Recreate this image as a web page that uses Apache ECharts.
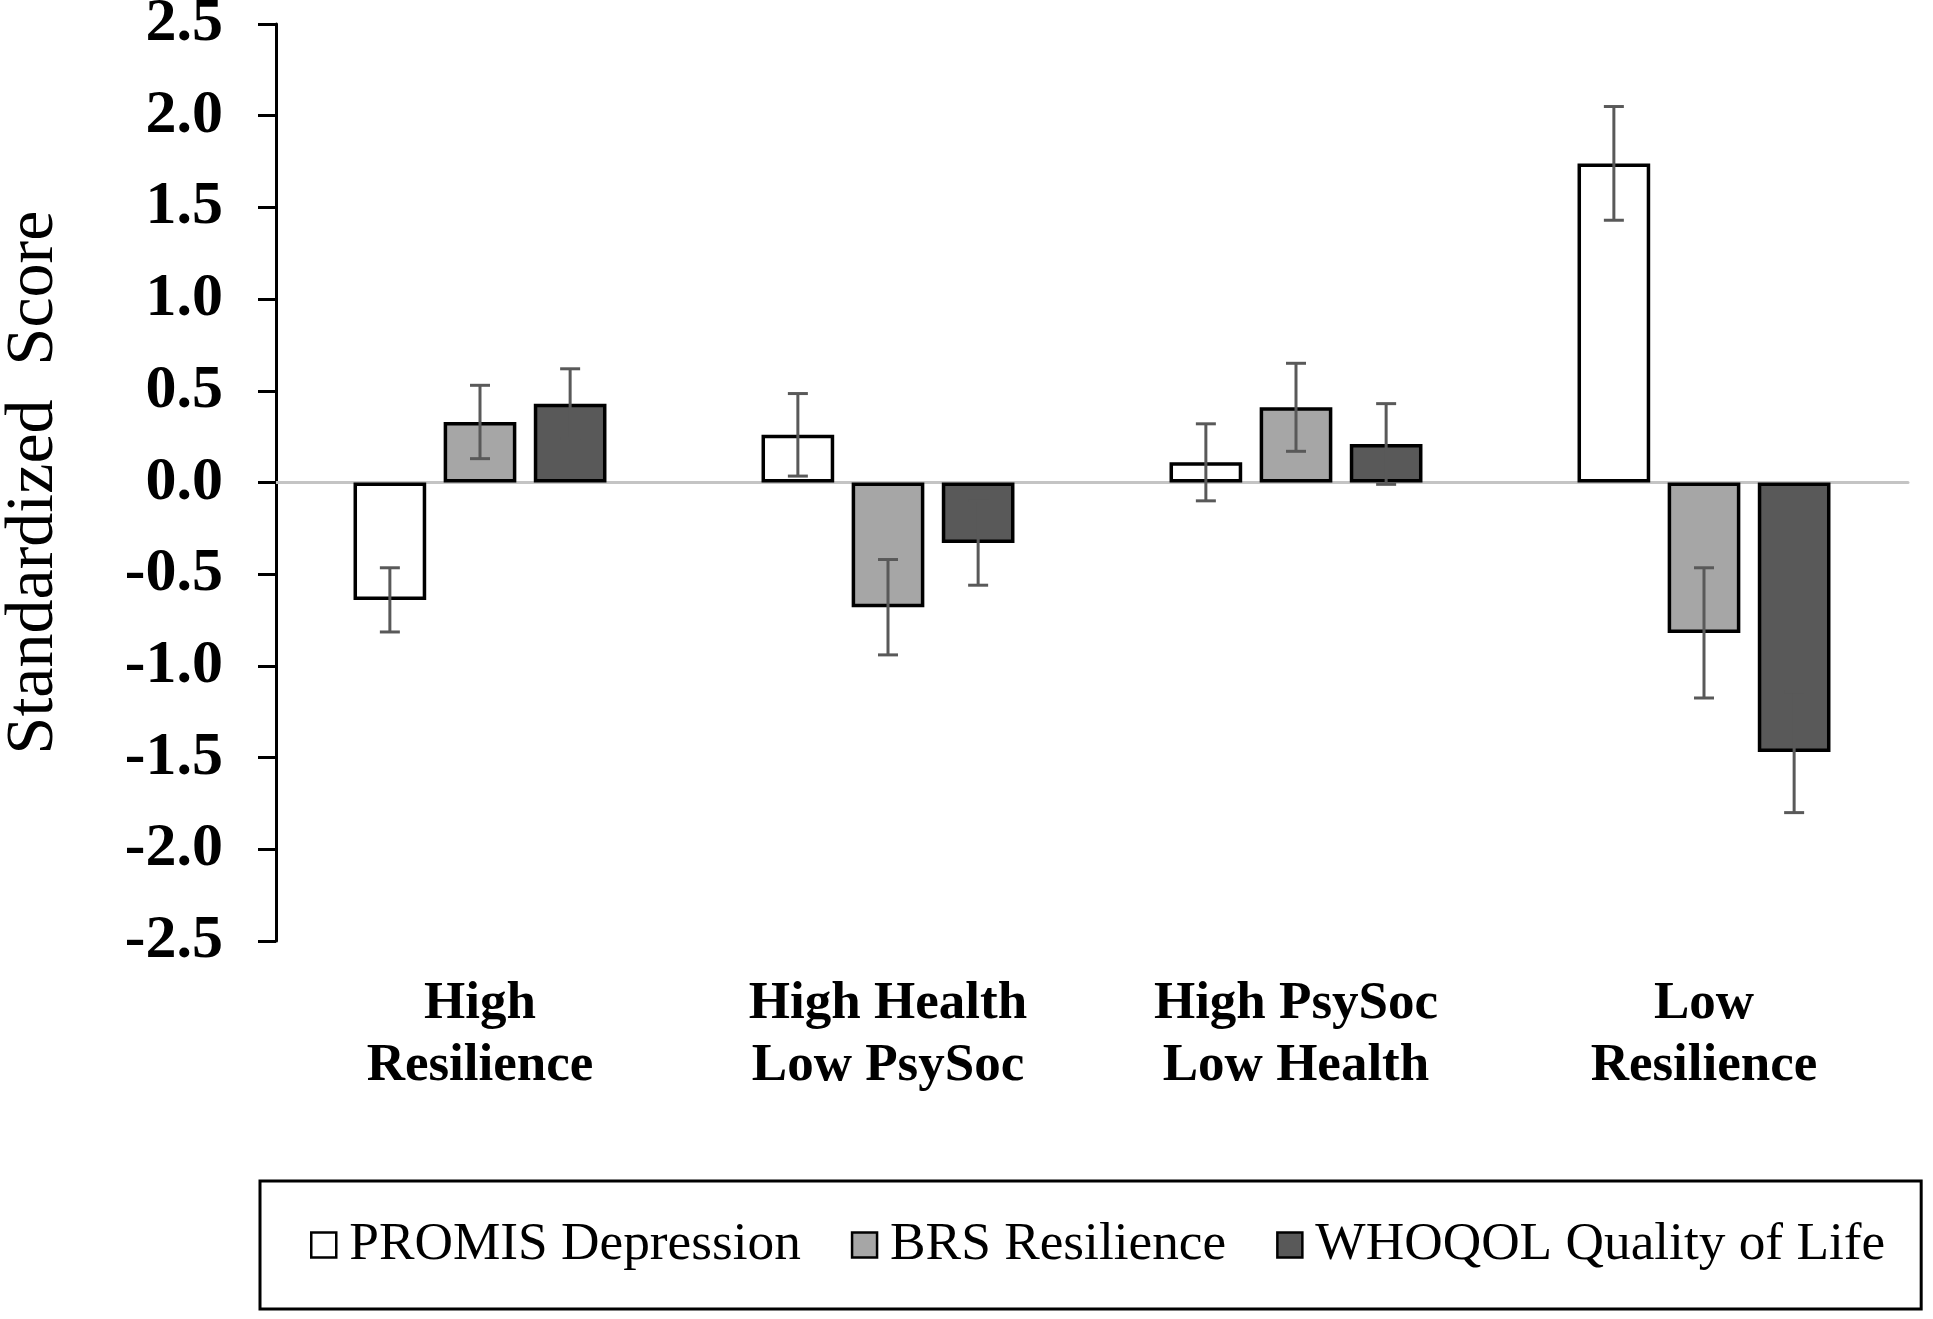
<!DOCTYPE html>
<html>
<head>
<meta charset="utf-8">
<script src="https://cdn.jsdelivr.net/npm/echarts@6/dist/echarts.min.js"></script>
<style>
  html, body { margin: 0; padding: 0; background: #fff; }
  #chart { width: 1933px; height: 1319px; }
</style>
</head>
<body>
<div id="chart"></div>
<script>
const categories = ['High\nResilience', 'High Health\nLow PsySoc', 'High PsySoc\nLow Health', 'Low\nResilience'];
const seriesNames = ['PROMIS Depression', 'BRS Resilience', 'WHOQOL Quality of Life'];

const promis = [-0.64, 0.26, 0.11, 1.74];
const promisErr = [0.175, 0.225, 0.21, 0.31];
const brs = [0.33, -0.68, 0.41, -0.82];
const brsErr = [0.20, 0.26, 0.24, 0.355];
const whoqol = [0.43, -0.33, 0.21, -1.47];
const whoqolErr = [0.19, 0.23, 0.22, 0.33];

const yTicks = [-2.5, -2.0, -1.5, -1.0, -0.5, 0.0, 0.5, 1.0, 1.5, 2.0, 2.5];

const fills = ['#ffffff', '#a6a6a6', '#595959'];
const CAT_GAP = 0.38;
const BAR_GAP = 0.24;
const serif = '"Liberation Serif", "Times New Roman", serif';

const values = [promis, brs, whoqol];
const errs = [promisErr, brsErr, whoqolErr];

// error bar items: [category, value, error, series index]
const errData = [];
values.forEach((vals, s) => {
  vals.forEach((v, i) => errData.push([i, v, errs[s][i], s]));
});

const renderErr = function (params, api) {
  const cat = api.value(0);
  const val = api.value(1);
  const err = api.value(2);
  const s = api.value(3);
  const band = api.size([1, 0])[0];
  const barW = band * (1 - CAT_GAP) / (3 + 2 * BAR_GAP);
  const groupW = barW * (3 + 2 * BAR_GAP);
  const x = api.coord([cat, val])[0] - groupW / 2 + s * barW * (1 + BAR_GAP) + barW / 2;
  const hi = api.coord([cat, val + err])[1];
  const lo = api.coord([cat, val - err])[1];
  const cap = 10;
  const style = { stroke: '#595959', lineWidth: 3 };
  return {
    type: 'group',
    children: [
      { type: 'line', shape: { x1: x, y1: hi, x2: x, y2: lo }, style },
      { type: 'line', shape: { x1: x - cap, y1: hi, x2: x + cap, y2: hi }, style },
      { type: 'line', shape: { x1: x - cap, y1: lo, x2: x + cap, y2: lo }, style },
    ],
  };
};

const chart = echarts.init(document.getElementById('chart'));

const series = seriesNames.map((name, s) => ({
  type: 'bar',
  name,
  data: values[s],
  barCategoryGap: (CAT_GAP * 100) + '%',
  barGap: (BAR_GAP * 100) + '%',
  itemStyle: { color: fills[s], borderColor: '#000', borderWidth: 3.5 },
  emphasis: { disabled: true },
}));

series.push({
  type: 'custom',
  name: 'error',
  data: errData,
  encode: { x: 0, y: 1 },
  renderItem: renderErr,
  z: 10,
  silent: true,
});

chart.setOption({
  animation: false,
  backgroundColor: '#fff',
  grid: { left: 276, right: 25, top: 24, bottom: 378, containLabel: false, outerBoundsMode: 'none' },
  legend: {
    data: seriesNames,
    left: 260,
    top: 1181,
    width: 1620,
    padding: [34, 36, 34, 50],
    borderColor: '#000',
    borderWidth: 3,
    itemWidth: 25,
    itemHeight: 25,
    itemGap: 50,
    icon: 'rect',
    itemStyle: { borderColor: '#000', borderWidth: 2.5 },
    textStyle: {
      fontFamily: serif,
      fontSize: 53.3,
      color: '#000',
      lineHeight: 60,
      padding: [0, 0, 0, 8],
    },
    selectedMode: false,
  },
  xAxis: [
    {
      type: 'category',
      data: categories,
      position: 'bottom',
      axisLine: { show: false, onZero: false },
      axisTick: { show: false },
      axisLabel: {
        interval: 0,
        margin: 32,
        fontFamily: serif,
        fontWeight: 'bold',
        fontSize: 53,
        lineHeight: 62,
        color: '#000',
      },
    },
    {
      // zero baseline
      type: 'category',
      data: categories,
      axisLine: { show: true, onZero: true, lineStyle: { color: '#c4c4c4', width: 3 } },
      axisTick: { show: false },
      axisLabel: { show: false },
    },
  ],
  yAxis: {
    type: 'value',
    min: yTicks[0],
    max: yTicks[yTicks.length - 1],
    interval: 0.5,
    name: 'Standardized  Score',
    nameLocation: 'middle',
    nameGap: 208,
    nameRotate: 90,
    nameTextStyle: { fontFamily: serif, fontSize: 68, color: '#000' },
    axisLine: { show: true, lineStyle: { color: '#000', width: 3 } },
    axisTick: { show: true, inside: false, length: 18, lineStyle: { color: '#000', width: 3 } },
    splitLine: { show: false },
    axisLabel: {
      margin: 53,
      fontFamily: serif,
      fontWeight: 'bold',
      fontSize: 62,
      color: '#000',
      formatter: v => v.toFixed(1),
    },
  },
  series,
});
</script>
</body>
</html>
